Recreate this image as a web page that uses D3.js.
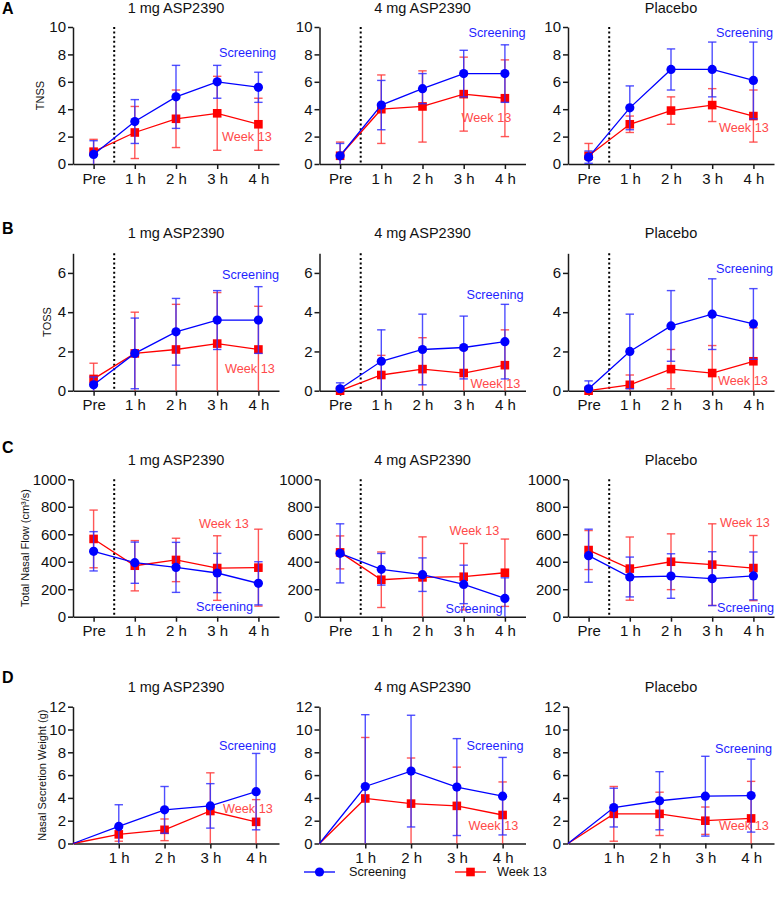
<!DOCTYPE html>
<html><head><meta charset="utf-8">
<script src="https://cdn.jsdelivr.net/npm/d3@7"></script>
<style>
body{margin:0;background:#fff}
text{font-family:"Liberation Sans",Arial,Helvetica,sans-serif}
</style>
</head><body>
<svg id="chart" width="776" height="909"></svg>
<script>
// ---------------- DATA ----------------
const timeLabels = ["Pre", "1 h", "2 h", "3 h", "4 h"];
const panelTitles = ["1 mg ASP2390", "4 mg ASP2390", "Placebo"];
const rowLetters = ["A", "B", "C", "D"];
const rowYLabels = ["TNSS", "TOSS", "Total Nasal Flow (cm³/s)", "Nasal Secretion Weight (g)"];
const rowYMax = [10, 7, 1000, 12];
const rowYTicks = [[0,2,4,6,8,10],[0,2,4,6],[0,200,400,600,800,1000],[0,2,4,6,8,10,12]];
const seriesNames = ["Screening", "Week 13"];

// TNSS (row A): mean and SD per panel
const tnssScrMean = [[0.7,3.1,4.9,6.0,5.6],[0.6,4.3,5.5,6.6,6.6],[0.5,4.1,6.9,6.9,6.1]];
const tnssScrSD   = [[1.0,1.6,2.3,1.2,1.1],[0.9,1.8,1.1,1.7,2.1],[0.45,1.6,1.5,2.0,2.8]];
const tnssW13Mean = [[0.9,2.3,3.3,3.7,2.9],[0.6,4.0,4.2,5.1,4.8],[0.6,2.9,3.9,4.3,3.5]];
const tnssW13SD   = [[0.9,1.9,2.1,2.7,1.9],[1.0,2.5,2.6,2.7,2.8],[0.9,0.6,1.0,1.2,1.9]];

// TOSS (row B)
const tossScrMean = [[0.3,1.9,3.0,3.6,3.6],[0.1,1.5,2.1,2.2,2.5],[0.1,2.0,3.3,3.9,3.4]];
const tossScrSD   = [[0.4,1.8,1.7,1.5,1.7],[0.3,1.6,1.8,1.6,1.9],[0.4,1.9,1.8,1.8,1.8]];
const tossW13Mean = [[0.6,1.9,2.1,2.4,2.1],[0.0,0.8,1.1,0.9,1.3],[0.0,0.3,1.1,0.9,1.5]];
const tossW13SD   = [[0.8,2.1,2.3,2.6,2.2],[0.0,1.0,1.6,1.2,1.8],[0.0,0.5,1.0,1.4,1.7]];

// Total nasal flow (row C)
const tnfScrMean = [[476,393,359,318,243],[461,345,306,235,133],[444,289,296,277,297]];
const tnfScrSD   = [[143,150,182,143,157],[215,115,122,140,150],[193,145,162,196,174]];
const tnfW13Mean = [[566,371,413,354,357],[468,269,286,291,320],[485,350,400,379,354]];
const tnfW13SD   = [[210,183,158,235,280],[120,202,295,242,245],[142,230,203,297,237]];

// Nasal secretion weight (row D); Pre = 0
const nswScrMean = [[0,1.5,2.95,3.3,4.55],[0,5.0,6.35,4.95,4.15],[0,3.15,3.75,4.15,4.2]];
const nswScrSD   = [[0,1.9,2.05,1.95,3.35],[0,6.3,4.9,4.25,3.4],[0,1.7,2.55,3.5,3.2]];
const nswW13Mean = [[0,0.8,1.2,2.85,1.9],[0,3.95,3.5,3.3,2.5],[0,2.6,2.6,2.0,2.2]];
const nswW13SD   = [[0,0.6,0.95,3.35,1.95],[0,5.35,4.0,3.4,2.9],[0,2.4,1.9,1.2,3.25]];

const rowData = [
  {scrM: tnssScrMean, scrS: tnssScrSD, w13M: tnssW13Mean, w13S: tnssW13SD},
  {scrM: tossScrMean, scrS: tossScrSD, w13M: tossW13Mean, w13S: tossW13SD},
  {scrM: tnfScrMean,  scrS: tnfScrSD,  w13M: tnfW13Mean,  w13S: tnfW13SD},
  {scrM: nswScrMean,  scrS: nswScrSD,  w13M: nswW13Mean,  w13S: nswW13SD}
];

// ---------------- LAYOUT ----------------
const axisX = [73, 319.5, 568];
const axisLen = 206;
const rowGeom = [
  {y0: 164,   yTop: 27,    titleY: 13,  letterY: 14,  ylabX: 40},
  {y0: 390.7, yTop: 253.3, titleY: 238, letterY: 234, ylabX: 47},
  {y0: 616.7, yTop: 479.3, titleY: 465, letterY: 453, ylabX: 25},
  {y0: 843.5, yTop: 706.7, titleY: 692, letterY: 683, ylabX: 42}
];
// annotation label positions: [dx from y-axis, y in data units] for Screening, Week 13
const labelPos = [
  [[[146,8.1],[149,1.97]], [[149,9.56],[142,3.36]], [[148,9.56],[151,2.63]]],
  [[[149,5.93],[152,1.15]], [[147,4.92],[151,0.34]], [[148,6.24],[150,0.54]]],
  [[[123,71],[126,675]], [[126,56],[130,624]], [[149,63],[152,682]]],
  [[[146,8.55],[150,3.1]], [[147,8.55],[149,1.6]], [[147,8.3],[151,1.6]]]
];

const BLUE = "#0000ff", BLUE_BAR = "#3030ff", BLUE_TXT = "#1f1fff";
const RED = "#ff0000", RED_BAR = "#ff3a3a", RED_TXT = "#ff4a4a";
const AXIS_COL = "#1a1a1a";

const svg = d3.select("#chart");

function drawSeries(g, x, y, means, sds, color, barColor, shape, showFirst) {
  const pts = means.map((m, i) => ({i, m, sd: sds[i]}));
  const [ymin, ymax] = y.domain();
  const marks = showFirst ? pts : pts.slice(1);
  const eb = g.append("g");
  marks.forEach(p => {
    if (!(p.sd > 0)) return;
    const lo = Math.max(ymin, p.m - p.sd), hi = Math.min(ymax, p.m + p.sd);
    const cx = x(p.i);
    eb.append("line").attr("x1", cx).attr("x2", cx).attr("y1", y(lo)).attr("y2", y(hi))
      .attr("stroke", barColor).attr("stroke-width", 1.4).attr("stroke-opacity", 0.85);
    eb.append("line").attr("x1", cx - 4.2).attr("x2", cx + 4.2).attr("y1", y(hi)).attr("y2", y(hi))
      .attr("stroke", barColor).attr("stroke-width", 1.4).attr("stroke-opacity", 0.85);
    if (p.m - p.sd > ymin) {
      eb.append("line").attr("x1", cx - 4.2).attr("x2", cx + 4.2).attr("y1", y(lo)).attr("y2", y(lo))
        .attr("stroke", barColor).attr("stroke-width", 1.4).attr("stroke-opacity", 0.85);
    }
  });
  g.append("path").datum(pts)
    .attr("d", d3.line().x(d => x(d.i)).y(d => y(d.m)))
    .attr("fill", "none").attr("stroke", color).attr("stroke-width", 1.3);
  const mk = g.append("g");
  marks.forEach(p => {
    if (shape === "circle") {
      mk.append("circle").attr("cx", x(p.i)).attr("cy", y(p.m)).attr("r", 4.6).attr("fill", color);
    } else {
      mk.append("rect").attr("x", x(p.i) - 4.3).attr("y", y(p.m) - 4.3)
        .attr("width", 8.6).attr("height", 8.6).attr("fill", color);
    }
  });
}

rowGeom.forEach((rg, r) => {
  // row letter
  svg.append("text").attr("x", 2).attr("y", rg.letterY).text(rowLetters[r])
    .attr("font-size", 16).attr("font-weight", "bold").attr("fill", "#000");
  // y label
  svg.append("text")
    .attr("transform", `translate(${rg.ylabX},${(rg.y0 + rg.yTop) / 2}) rotate(-90)`)
    .attr("text-anchor", "middle").attr("dy", "0.35em")
    .attr("font-size", 11).attr("fill", "#111").text(rowYLabels[r]);

  const isD = r === 3;
  for (let p = 0; p < 3; p++) {
    const ax = axisX[p];
    const x = d3.scaleLinear().domain(isD ? [0, 4.5] : [-0.5, 4.5]).range([ax, ax + axisLen]);
    const y = d3.scaleLinear().domain([0, rowYMax[r]]).range([rg.y0, rg.yTop]);
    const g = svg.append("g");

    // title
    g.append("text").attr("x", ax + 103).attr("y", rg.titleY).attr("text-anchor", "middle")
      .attr("font-size", 14.5).attr("fill", "#111").text(panelTitles[p]);

    // y axis
    const yAxis = g.append("g").attr("transform", `translate(${ax},0)`)
      .call(d3.axisLeft(y).tickValues(rowYTicks[r]).tickFormat(d3.format("d"))
        .tickSize(5).tickSizeOuter(0).tickPadding(2));
    // x axis
    const xt = isD ? [1, 2, 3, 4] : [0, 1, 2, 3, 4];
    const xAxis = g.append("g").attr("transform", `translate(0,${rg.y0})`)
      .call(d3.axisBottom(x).tickValues(xt).tickFormat(i => timeLabels[i]).tickSize(5).tickSizeOuter(0).tickPadding(4));
    [yAxis, xAxis].forEach(a => {
      a.select(".domain").attr("stroke", AXIS_COL).attr("stroke-width", 1.5);
      a.selectAll(".tick line").attr("stroke", AXIS_COL).attr("stroke-width", 1.5);
      a.selectAll(".tick text").attr("font-size", 15).attr("fill", "#111")
        .style("font-family", '"Liberation Sans",Arial,sans-serif');
    });

    // dotted separator
    if (!isD) {
      g.append("line").attr("x1", x(0.5)).attr("x2", x(0.5)).attr("y1", rg.yTop).attr("y2", rg.y0)
        .attr("stroke", "#000").attr("stroke-width", 2).attr("stroke-dasharray", "2,2.6");
    }

    const d = rowData[r];
    drawSeries(g, x, y, d.w13M[p], d.w13S[p], RED, RED_BAR, "square", !isD);
    drawSeries(g, x, y, d.scrM[p], d.scrS[p], BLUE, BLUE_BAR, "circle", !isD);

    // annotations
    const lp = labelPos[r][p];
    g.append("text").attr("x", ax + lp[0][0]).attr("y", y(lp[0][1])).attr("dy", "0.35em")
      .attr("font-size", 12.7).attr("fill", BLUE_TXT).text(seriesNames[0]);
    g.append("text").attr("x", ax + lp[1][0]).attr("y", y(lp[1][1])).attr("dy", "0.35em")
      .attr("font-size", 12.7).attr("fill", RED_TXT).text(seriesNames[1]);
  }
});

// legend
const lg = svg.append("g");
const legY = 872;
lg.append("line").attr("x1", 304).attr("x2", 335).attr("y1", legY).attr("y2", legY)
  .attr("stroke", BLUE).attr("stroke-width", 1.3);
lg.append("circle").attr("cx", 319.5).attr("cy", legY).attr("r", 4.6).attr("fill", BLUE);
lg.append("text").attr("x", 349).attr("y", legY).attr("dy", "0.35em").attr("font-size", 12.7)
  .attr("fill", "#111").text(seriesNames[0]);
lg.append("line").attr("x1", 455).attr("x2", 486).attr("y1", legY).attr("y2", legY)
  .attr("stroke", RED).attr("stroke-width", 1.3);
lg.append("rect").attr("x", 470.5 - 4.3).attr("y", legY - 4.3).attr("width", 8.6).attr("height", 8.6).attr("fill", RED);
lg.append("text").attr("x", 497).attr("y", legY).attr("dy", "0.35em").attr("font-size", 12.7)
  .attr("fill", "#111").text(seriesNames[1]);
</script>
</body></html>
